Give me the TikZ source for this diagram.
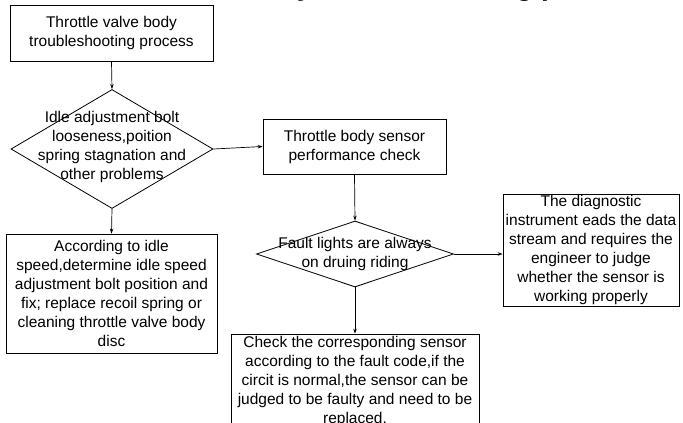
\documentclass[tikz,border=0pt]{standalone}
\usepackage{fontspec}
\setmainfont{Liberation Sans}
\usetikzlibrary{arrows.meta,shapes.geometric}
\begin{document}
\begin{tikzpicture}[x=1pt,y=-1pt,
  box/.style={draw, line width=0.8pt, inner sep=0pt, align=center, font=\fontsize{15.5}{19}\selectfont},
  dia/.style={draw, diamond, line width=0.8pt, inner sep=0pt},
  txt/.style={align=center, font=\fontsize{15.5}{19}\selectfont, inner sep=0pt},
  arr/.style={-{Stealth[length=5pt,width=3.5pt]}, line width=0.7pt}]
\useasboundingbox (0,0) rectangle (683,423);
\node[font=\bfseries\fontsize{28}{32}\selectfont, anchor=base, inner sep=0pt] (title) at (352,-4.5) {Throttle valve body troubleshooting process};
\node[box, minimum width=203pt, minimum height=56pt] (a) at (111.5,33) {Throttle valve body\\troubleshooting process};
\node[dia, minimum width=202pt, minimum height=119pt] (d1) at (112,149) {};
\node[txt] (d1t) at (112,147) {Idle adjustment bolt\\looseness,poition\\spring stagnation and\\other problems};
\node[box, minimum width=183pt, minimum height=55pt] (b) at (354.5,146.5) {Throttle body sensor\\performance check};
\node[box, minimum width=211pt, minimum height=119pt] (c) at (111.5,293.5) {According to idle\\speed,determine idle speed\\adjustment bolt position and\\fix; replace recoil spring or\\cleaning throttle valve body\\disc};
\node[dia, minimum width=197pt, minimum height=66pt] (d2) at (355,254) {};
\node[txt] (d2t) at (355,253.5) {Fault lights are always\\on druing riding};
\node[box, minimum width=176pt, minimum height=112pt] (d) at (591,250) {The diagnostic\\instrument eads the data\\stream and requires the\\engineer to judge\\whether the sensor is\\working properly};
\node[box, minimum width=248pt, minimum height=106pt] (e) at (355,387) {};
\node[txt] (et) at (355,381) {Check the corresponding sensor\\according to the fault code,if the\\circit is normal,the sensor can be\\judged to be faulty and need to be\\replaced.};
\draw[arr] (a.south) -- (d1.north);
\draw[arr] (d1.east) -- (b.west);
\draw[arr] (d1.south) -- (c.north);
\draw[arr] (b.south) -- (d2.north);
\draw[arr] (d2.east) -- (d2.east -| d.west);
\draw[arr] (d2.south) -- (e.north);
\end{tikzpicture}
\end{document}
